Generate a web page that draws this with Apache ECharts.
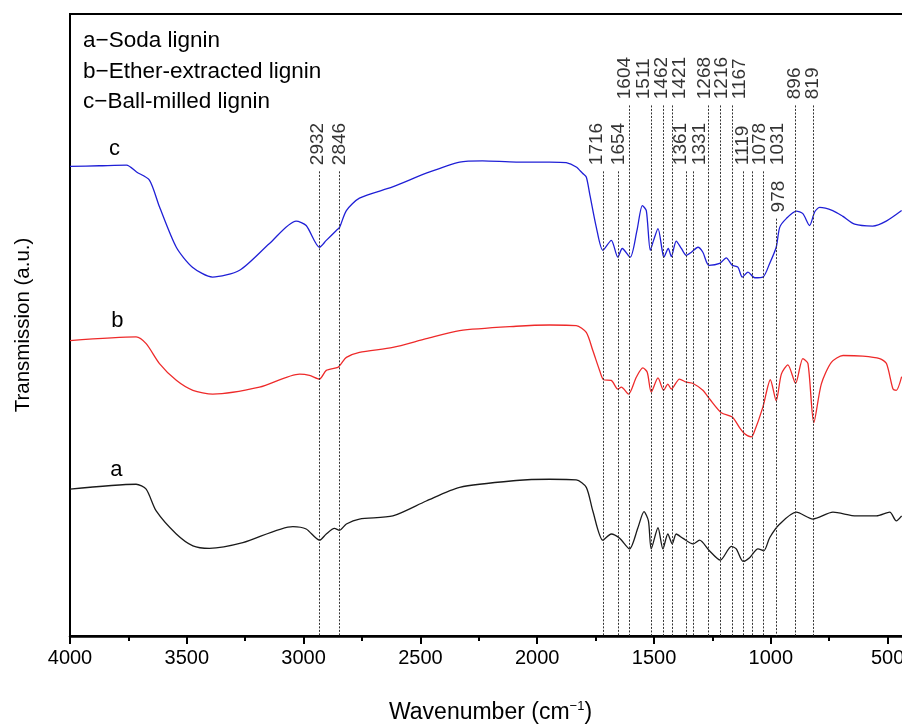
<!DOCTYPE html>
<html>
<head>
<meta charset="utf-8">
<script src="https://cdn.jsdelivr.net/npm/echarts@6/dist/echarts.min.js"></script>
<style>
  html, body { margin: 0; padding: 0; background: #fff; }
  #chart { width: 902px; height: 727px; }
</style>
</head>
<body>
<div id="chart"></div>
<script>
// FTIR spectra, wavenumber (cm-1) vs transmission (a.u., offset curves)
var cWave = [4000, 3874, 3758, 3715, 3660, 3617, 3545, 3476, 3390, 3274, 3146, 3032, 2989, 2932, 2903, 2860, 2846, 2817, 2761, 2619, 2475, 2332, 2234, 2090, 1947, 1876, 1833, 1806, 1790, 1776, 1747, 1719, 1683, 1655, 1636, 1602, 1573, 1550, 1533, 1516, 1502, 1483, 1465, 1458, 1439, 1426, 1405, 1383, 1362, 1340, 1312, 1291, 1265, 1219, 1191, 1165, 1141, 1122, 1098, 1069, 1034, 1005, 977, 962, 934, 891, 863, 834, 812, 791, 735, 693, 641, 564, 506, 440];
var cTrans = [75.5, 75.6, 75.7, 74.6, 73.3, 69.0, 62.5, 59.3, 57.7, 58.8, 63.1, 66.7, 66.0, 62.5, 63.6, 65.2, 65.7, 68.4, 70.4, 72.2, 74.4, 76.2, 76.4, 76.2, 76.2, 76.1, 75.4, 74.4, 73.8, 71.2, 65.7, 62.0, 63.6, 60.9, 62.3, 60.9, 65.2, 69.2, 68.4, 62.0, 63.6, 65.5, 62.0, 60.9, 62.3, 61.0, 63.5, 62.3, 61.2, 61.7, 62.5, 61.7, 59.6, 59.9, 60.8, 59.6, 59.3, 57.7, 58.5, 57.6, 57.7, 59.9, 62.5, 65.7, 67.1, 68.3, 67.9, 66.0, 68.2, 68.9, 68.4, 67.5, 66.2, 65.9, 66.7, 68.4];

var bWave = [4000, 3717, 3674, 3617, 3545, 3474, 3389, 3189, 3017, 2975, 2932, 2903, 2853, 2839, 2817, 2761, 2618, 2475, 2332, 2090, 1947, 1833, 1790, 1762, 1733, 1716, 1683, 1655, 1640, 1609, 1576, 1548, 1529, 1512, 1483, 1459, 1441, 1426, 1391, 1362, 1333, 1291, 1262, 1212, 1165, 1134, 1112, 1084, 1074, 1034, 1002, 977, 955, 927, 894, 863, 841, 816, 784, 741, 691, 606, 534, 505, 477, 463, 440];
var bTrans = [47.5, 48.1, 47.0, 43.8, 41.1, 39.5, 38.9, 40.0, 42.1, 41.9, 41.3, 42.7, 43.2, 43.8, 44.8, 45.6, 46.4, 47.8, 49.1, 49.8, 50.0, 49.9, 48.8, 45.9, 42.7, 41.2, 41.1, 39.7, 40.0, 38.9, 41.6, 43.1, 42.4, 39.2, 41.5, 39.5, 40.5, 39.7, 41.3, 40.8, 40.6, 39.5, 38.1, 35.9, 35.2, 33.5, 32.5, 32.0, 32.5, 36.8, 41.2, 37.8, 42.1, 43.6, 40.6, 44.6, 43.8, 34.3, 40.5, 44.0, 45.1, 45.0, 44.6, 43.8, 39.7, 39.5, 41.7];

var aWave = [4000, 3717, 3674, 3631, 3545, 3474, 3403, 3260, 3046, 2989, 2932, 2903, 2868, 2846, 2817, 2761, 2618, 2475, 2332, 2090, 1947, 1833, 1790, 1762, 1719, 1683, 1647, 1605, 1569, 1543, 1524, 1512, 1483, 1462, 1441, 1422, 1405, 1376, 1333, 1305, 1265, 1216, 1169, 1148, 1119, 1091, 1055, 1030, 1005, 962, 891, 820, 734, 634, 548, 491, 463, 440];
var aTrans = [23.6, 24.4, 23.6, 20.1, 16.4, 14.5, 14.1, 15.0, 17.6, 17.2, 15.4, 16.4, 17.3, 17.0, 18.0, 18.8, 19.3, 21.7, 23.9, 25.0, 25.2, 25.1, 23.9, 20.1, 15.4, 16.4, 15.7, 14.0, 17.4, 20.0, 18.5, 14.0, 17.4, 14.0, 16.4, 14.8, 16.4, 15.7, 14.8, 15.4, 13.8, 12.2, 14.4, 14.0, 12.0, 12.6, 14.0, 13.7, 15.8, 18.0, 19.9, 18.8, 19.9, 19.3, 19.3, 19.9, 18.5, 19.3];

// marked bands: wavenumber, where the dotted guide starts (a.u.),
// and where its label sits (labels are spread apart where bands crowd)
var peakWave  = [2932, 2846, 1716, 1654, 1604, 1511, 1462, 1421, 1361, 1331, 1268, 1216, 1167, 1119, 1078, 1031, 978, 896, 819];
var peakTop   = [74.7, 74.7, 74.7, 74.7, 85.3, 85.3, 85.3, 85.3, 74.7, 74.7, 85.3, 85.3, 85.3, 74.7, 74.7, 74.7, 67.1, 85.3, 85.3];
var peakLabel = [2938, 2846, 1746, 1650, 1624, 1543, 1465, 1388, 1384, 1305, 1281, 1209, 1131, 1119, 1048, 969, 967, 898, 819];

// curve tags
var tagNames = ['a', 'b', 'c'];
var tagWave  = [3801, 3797, 3809];
var tagTrans = [26.7, 50.7, 78.3];

var majorTicks = [500, 1000, 1500, 2000, 2500, 3000, 3500, 4000];
var minorTicks = [750, 1250, 1750, 2250, 2750, 3250, 3750];

var legendLines = ['a\u2212Soda lignin', 'b\u2212Ether-extracted lignin', 'c\u2212Ball-milled lignin'];

function zip(xs, ys) {
    return xs.map(function (x, i) { return [x, ys[i]]; });
}

function tag(i) {
    return {
        symbol: 'circle',
        symbolSize: 0,
        silent: true,
        label: { show: true, position: 'inside', formatter: tagNames[i], fontSize: 22, color: '#000' },
        data: [{ coord: [tagWave[i], tagTrans[i]] }]
    };
}

var font = "'Liberation Sans', Arial, sans-serif";
var chart = echarts.init(document.getElementById('chart'));

chart.setOption({
    animation: false,
    textStyle: { fontFamily: font },
    title: {
        text: legendLines.join('\n'),
        left: 83,
        top: 26,
        padding: 0,
        textStyle: { fontSize: 22.5, fontWeight: 'normal', color: '#000', lineHeight: 30.5, fontFamily: font }
    },
    grid: {
        left: 70,
        top: 14,
        right: -9,
        bottom: 91,
        outerBoundsMode: 'none',
        containLabel: false,
        show: true,
        borderColor: '#000',
        borderWidth: 2
    },
    xAxis: [{
        type: 'value',
        inverse: true,
        min: 400,
        max: 4000,
        position: 'bottom',
        axisLine: { lineStyle: { color: '#000', width: 2.5 } },
        axisTick: { customValues: majorTicks, length: 8, lineStyle: { color: '#000', width: 2 } },
        axisLabel: {
            customValues: majorTicks,
            fontSize: 20,
            color: '#000',
            margin: 12,
            formatter: function (v) { return String(v); }
        },
        splitLine: { show: false },
        name: 'Wavenumber (cm{sup|\u22121})',
        nameLocation: 'middle',
        nameGap: 64,
        nameTextStyle: {
            fontSize: 23,
            color: '#000',
            rich: { sup: { fontSize: 13, verticalAlign: 'top', padding: [0, 0, 12, 0] } }
        }
    }, {
        type: 'value',
        inverse: true,
        min: 400,
        max: 4000,
        position: 'bottom',
        axisLine: { show: false },
        axisTick: { customValues: minorTicks, length: 5, lineStyle: { color: '#000', width: 2 } },
        axisLabel: { show: false },
        splitLine: { show: false }
    }],
    yAxis: {
        type: 'value',
        min: 0,
        max: 100,
        axisLine: { show: true, lineStyle: { color: '#000', width: 2 } },
        axisTick: { show: false },
        axisLabel: { show: false },
        splitLine: { show: false },
        name: 'Transmission (a.u.)',
        nameLocation: 'middle',
        nameGap: 36,
        nameTextStyle: { fontSize: 20.5, color: '#000' }
    },
    series: [{
        name: 'a',
        type: 'line',
        data: zip(aWave, aTrans),
        showSymbol: false,
        smooth: 0.25,
        lineStyle: { color: '#1a1a1a', width: 1.3 },
        markPoint: tag(0)
    }, {
        name: 'b',
        type: 'line',
        data: zip(bWave, bTrans),
        showSymbol: false,
        smooth: 0.25,
        lineStyle: { color: '#ee2a2a', width: 1.3 },
        markPoint: tag(1)
    }, {
        name: 'c',
        type: 'line',
        data: zip(cWave, cTrans),
        showSymbol: false,
        smooth: 0.25,
        lineStyle: { color: '#1f1fd6', width: 1.3 },
        markPoint: tag(2)
    }, {
        name: 'peaks',
        type: 'scatter',
        symbolSize: 0,
        silent: true,
        data: peakWave.map(function (w, i) {
            return { value: [peakLabel[i], peakTop[i] + 1], name: String(w) };
        }),
        label: {
            show: true,
            position: [0, 0],
            formatter: '{b}',
            rotate: 90,
            align: 'left',
            verticalAlign: 'middle',
            fontSize: 19,
            color: '#000'
        },
        markLine: {
            silent: true,
            symbol: ['none', 'none'],
            label: { show: false },
            lineStyle: { type: [2, 1.5], color: '#333', width: 1 },
            data: peakWave.map(function (w, i) {
                return [{ coord: [w, peakTop[i]] }, { coord: [w, 0] }];
            })
        }
    }]
});
</script>
</body>
</html>
